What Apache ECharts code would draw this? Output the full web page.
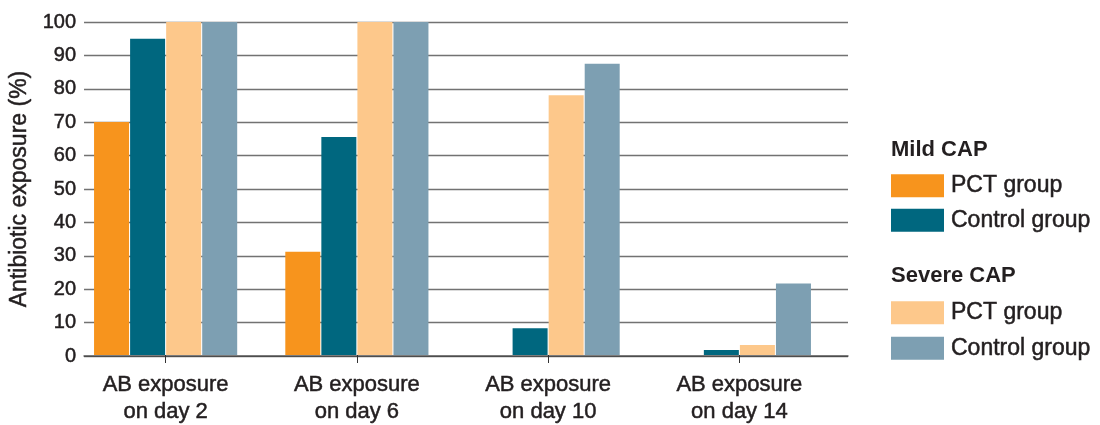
<!DOCTYPE html>
<html>
<head>
<meta charset="utf-8">
<script src="https://cdn.jsdelivr.net/npm/echarts@6/dist/echarts.min.js"></script>
<style>html,body{margin:0;padding:0;background:#fff}#c{width:1100px;height:425px}</style>
</head>
<body>
<div id="c"></div>
<script>
const categories = ['AB exposure\non day 2', 'AB exposure\non day 6', 'AB exposure\non day 10', 'AB exposure\non day 14'];
const mildPCT = [70, 31, 0, 0];
const mildControl = [95, 65.5, 8, 1.5];
const severePCT = [100, 100, 78, 3];
const severeControl = [100, 100, 87.5, 21.5];
const yTicks = { min: 0, max: 100, interval: 10 };
const legendGroups = ['Mild CAP', 'Severe CAP'];
const seriesLabels = ['PCT group', 'Control group'];

const FONT = '"Liberation Sans", Arial, sans-serif';
const TXT = '#231f20';
const colors = ['#f7941d', '#00677f', '#fdc88b', '#7d9fb2'];
const heavy = { textBorderColor: TXT, textBorderWidth: 0.5 };

const chart = echarts.init(document.getElementById('c'));
const names = ['Mild ' + seriesLabels[0], 'Mild ' + seriesLabels[1], 'Severe ' + seriesLabels[0], 'Severe ' + seriesLabels[1]];
const datas = [mildPCT, mildControl, severePCT, severeControl];

chart.setOption({
  animation: false,
  textStyle: { fontFamily: FONT },
  grid: [
    { left: 70, right: 265, top: 22, bottom: 69 },
    { left: 77, right: 252, top: 22, bottom: 69 }
  ],
  xAxis: [
    {
      type: 'category', gridIndex: 0, data: categories,
      axisLine: { show: false },
      axisTick: { show: true, alignWithLabel: true, length: 8, lineStyle: { color: '#333', width: 1 } },
      axisLabel: Object.assign({ fontSize: 22, color: TXT, margin: 16, lineHeight: 27, fontFamily: FONT }, heavy),
      splitLine: { show: false }
    },
    {
      type: 'value', gridIndex: 1, min: 0, max: 1, z: 5,
      axisLine: { show: true, lineStyle: { color: 'rgba(50,50,50,0.75)', width: 1.5 } },
      axisTick: { show: false }, axisLabel: { show: false }, splitLine: { show: false }
    }
  ],
  yAxis: [
    {
      type: 'value', gridIndex: 0, min: yTicks.min, max: yTicks.max, interval: yTicks.interval,
      axisLine: { show: false }, axisTick: { show: false }, axisLabel: { show: false }, splitLine: { show: false }
    },
    {
      type: 'value', gridIndex: 1, min: yTicks.min, max: yTicks.max, interval: yTicks.interval,
      axisLine: { show: false }, axisTick: { show: false },
      axisLabel: Object.assign({ fontSize: 20, color: TXT, margin: 8, fontFamily: FONT }, heavy),
      splitLine: { show: true, lineStyle: { color: '#727272', width: 1.4 } },
      name: 'Antibiotic exposure (%)', nameLocation: 'middle', nameGap: 50,
      nameTextStyle: Object.assign({ fontSize: 23, color: TXT, fontFamily: FONT }, heavy)
    }
  ],
  legend: [
    {
      orient: 'vertical', left: 891, top: 174, padding: 0, itemWidth: 53, itemHeight: 23, itemGap: 11,
      icon: 'rect', data: [names[0], names[1]],
      formatter: n => n.replace(/^Mild /, ''),
      textStyle: Object.assign({ fontSize: 23, color: TXT, fontFamily: FONT, padding: [0, 0, 0, 2] }, heavy),
      selectedMode: false
    },
    {
      orient: 'vertical', left: 891, top: 301, padding: 0, itemWidth: 53, itemHeight: 23, itemGap: 12,
      icon: 'rect', data: [names[2], names[3]],
      formatter: n => n.replace(/^Severe /, ''),
      textStyle: Object.assign({ fontSize: 23, color: TXT, fontFamily: FONT, padding: [0, 0, 0, 2] }, heavy),
      selectedMode: false
    }
  ],
  graphic: [
    { type: 'text', left: 891, top: 139, style: { text: legendGroups[0], font: 'bold 22px ' + FONT, fill: TXT } },
    { type: 'text', left: 891, top: 265, style: { text: legendGroups[1], font: 'bold 22px ' + FONT, fill: TXT } }
  ],
  series: names.map((n, i) => ({
    name: n, type: 'bar', xAxisIndex: 0, yAxisIndex: 0,
    data: datas[i], barWidth: 35, barGap: '3%',
    itemStyle: { color: colors[i] }
  }))
});
</script>
</body>
</html>
